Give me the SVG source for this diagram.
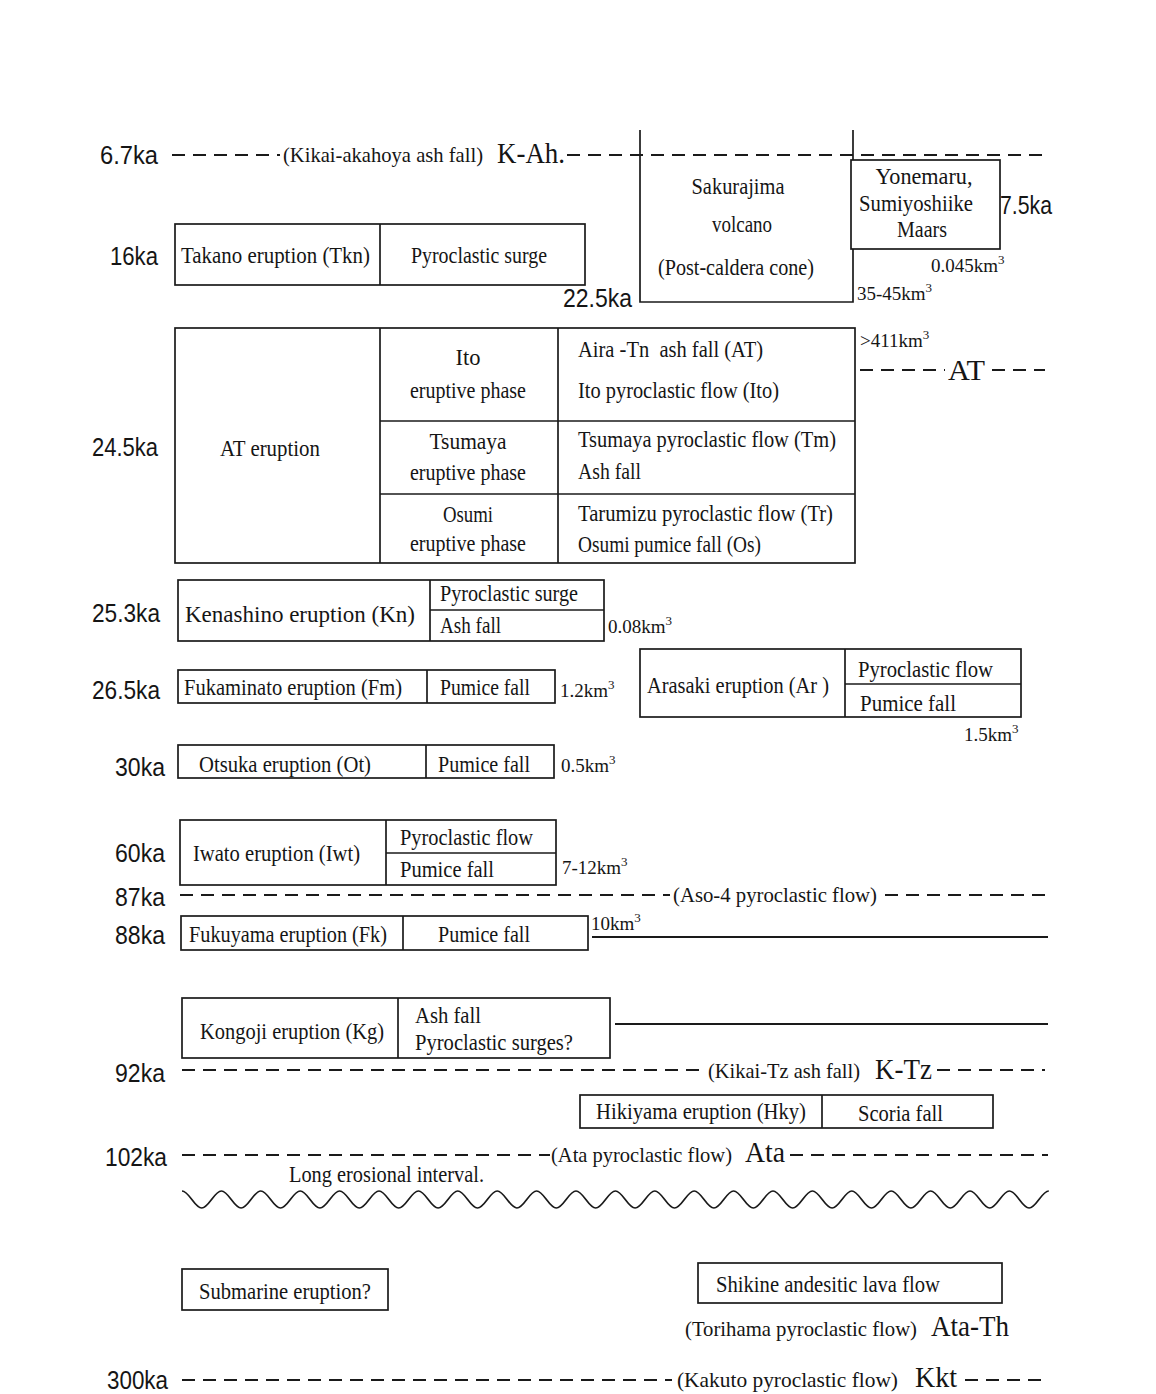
<svg xmlns="http://www.w3.org/2000/svg" width="1156" height="1394" viewBox="0 0 1156 1394">
<style>
.t{font-family:"Liberation Serif","Times New Roman",serif;font-size:24px;fill:#151515}
.p{font-size:21px}
.c{text-anchor:middle}
.big{font-size:29px}
.v{font-size:19px}
.ka{font-family:"Liberation Sans",Arial,sans-serif;font-size:26px;fill:#151515}
.box{fill:#fff;stroke:#1a1a1a;stroke-width:1.7}
.ln{fill:none;stroke:#1a1a1a;stroke-width:1.7}
.dash{fill:none;stroke:#1a1a1a;stroke-width:2;stroke-dasharray:13 8}
.solid{fill:none;stroke:#1a1a1a;stroke-width:2}
</style>
<rect width="1156" height="1394" fill="#fff"/>

<g id="connectors">
  <line class="dash" x1="172" y1="155" x2="280" y2="155"/>
  <line class="dash" x1="567" y1="155" x2="1045" y2="155"/>
  <line class="dash" x1="860" y1="370" x2="945" y2="370"/>
  <line class="dash" x1="992" y1="370" x2="1045" y2="370"/>
  <line class="dash" x1="180" y1="895" x2="670" y2="895"/>
  <line class="dash" x1="885" y1="895" x2="1045" y2="895"/>
  <line class="solid" x1="592" y1="937" x2="1048" y2="937"/>
  <line class="solid" x1="615" y1="1024" x2="1048" y2="1024"/>
  <line class="dash" x1="182" y1="1070" x2="705" y2="1070"/>
  <line class="dash" x1="937" y1="1070" x2="1045" y2="1070"/>
  <line class="dash" x1="182" y1="1155" x2="550" y2="1155"/>
  <line class="dash" x1="790" y1="1155" x2="1048" y2="1155"/>
  <line class="dash" x1="182" y1="1380" x2="672" y2="1380"/>
  <line class="dash" x1="965" y1="1380" x2="1045" y2="1380"/>
  <path class="ln" d="M182,1191 c7.1,0 12.6,17 19.7,17 c7.1,0 12.6,-17 19.7,-17 c7.1,0 12.6,17 19.7,17 c7.1,0 12.6,-17 19.7,-17 c7.1,0 12.6,17 19.7,17 c7.1,0 12.6,-17 19.7,-17 c7.1,0 12.6,17 19.7,17 c7.1,0 12.6,-17 19.7,-17 c7.1,0 12.6,17 19.7,17 c7.1,0 12.6,-17 19.7,-17 c7.1,0 12.6,17 19.7,17 c7.1,0 12.6,-17 19.7,-17 c7.1,0 12.6,17 19.7,17 c7.1,0 12.6,-17 19.7,-17 c7.1,0 12.6,17 19.7,17 c7.1,0 12.6,-17 19.7,-17 c7.1,0 12.6,17 19.7,17 c7.1,0 12.6,-17 19.7,-17 c7.1,0 12.6,17 19.7,17 c7.1,0 12.6,-17 19.7,-17 c7.1,0 12.6,17 19.7,17 c7.1,0 12.6,-17 19.7,-17 c7.1,0 12.6,17 19.7,17 c7.1,0 12.6,-17 19.7,-17 c7.1,0 12.6,17 19.7,17 c7.1,0 12.6,-17 19.7,-17 c7.1,0 12.6,17 19.7,17 c7.1,0 12.6,-17 19.7,-17 c7.1,0 12.6,17 19.7,17 c7.1,0 12.6,-17 19.7,-17 c7.1,0 12.6,17 19.7,17 c7.1,0 12.6,-17 19.7,-17 c7.1,0 12.6,17 19.7,17 c7.1,0 12.6,-17 19.7,-17 c7.1,0 12.6,17 19.7,17 c7.1,0 12.6,-17 19.7,-17 c7.1,0 12.6,17 19.7,17 c7.1,0 12.6,-17 19.7,-17 c7.1,0 12.6,17 19.7,17 c7.1,0 12.6,-17 19.7,-17 c7.1,0 12.6,17 19.7,17 c7.1,0 12.6,-17 19.7,-17 c7.1,0 12.6,17 19.7,17 c7.1,0 12.6,-17 19.7,-17"/>
</g>

<g id="timeline-labels">
  <text class="ka" x="100" y="164" textLength="58" lengthAdjust="spacingAndGlyphs">6.7ka</text>
  <text class="t p" x="283" y="162" textLength="200" lengthAdjust="spacingAndGlyphs">(Kikai-akahoya ash fall)</text>
  <text class="t big" x="497" y="163" textLength="68" lengthAdjust="spacingAndGlyphs">K-Ah.</text>
  <text class="ka" x="110" y="265" textLength="48" lengthAdjust="spacingAndGlyphs">16ka</text>
  <text class="ka" x="563" y="307" textLength="69" lengthAdjust="spacingAndGlyphs">22.5ka</text>
  <text class="ka" x="1000" y="214" textLength="52" lengthAdjust="spacingAndGlyphs">7.5ka</text>
  <text class="t v" x="931" y="272">0.045km<tspan dy="-8" font-size="13">3</tspan></text>
  <text class="t v" x="857" y="300">35-45km<tspan dy="-8" font-size="13">3</tspan></text>
  <text class="ka" x="92" y="456" textLength="66" lengthAdjust="spacingAndGlyphs">24.5ka</text>
  <text class="t v" x="860" y="347">&gt;411km<tspan dy="-8" font-size="13">3</tspan></text>
  <text class="t big" x="948" y="380" textLength="37" lengthAdjust="spacingAndGlyphs">AT</text>
  <text class="ka" x="92" y="622" textLength="68" lengthAdjust="spacingAndGlyphs">25.3ka</text>
  <text class="t v" x="608" y="633">0.08km<tspan dy="-8" font-size="13">3</tspan></text>
  <text class="ka" x="92" y="699" textLength="68" lengthAdjust="spacingAndGlyphs">26.5ka</text>
  <text class="t v" x="560" y="697">1.2km<tspan dy="-8" font-size="13">3</tspan></text>
  <text class="t v" x="964" y="741">1.5km<tspan dy="-8" font-size="13">3</tspan></text>
  <text class="ka" x="115" y="776" textLength="50" lengthAdjust="spacingAndGlyphs">30ka</text>
  <text class="t v" x="561" y="772">0.5km<tspan dy="-8" font-size="13">3</tspan></text>
  <text class="ka" x="115" y="862" textLength="50" lengthAdjust="spacingAndGlyphs">60ka</text>
  <text class="t v" x="562" y="874">7-12km<tspan dy="-8" font-size="13">3</tspan></text>
  <text class="ka" x="115" y="906" textLength="50" lengthAdjust="spacingAndGlyphs">87ka</text>
  <text class="t p" x="673" y="902" textLength="204" lengthAdjust="spacingAndGlyphs">(Aso-4 pyroclastic flow)</text>
  <text class="ka" x="115" y="944" textLength="50" lengthAdjust="spacingAndGlyphs">88ka</text>
  <text class="t v" x="591" y="930">10km<tspan dy="-8" font-size="13">3</tspan></text>
  <text class="ka" x="115" y="1082" textLength="50" lengthAdjust="spacingAndGlyphs">92ka</text>
  <text class="t p" x="708" y="1078" textLength="152" lengthAdjust="spacingAndGlyphs">(Kikai-Tz ash fall)</text>
  <text class="t big" x="875" y="1079" textLength="57" lengthAdjust="spacingAndGlyphs">K-Tz</text>
  <text class="ka" x="105" y="1166" textLength="62" lengthAdjust="spacingAndGlyphs">102ka</text>
  <text class="t p" x="551" y="1162" textLength="181" lengthAdjust="spacingAndGlyphs">(Ata pyroclastic flow)</text>
  <text class="t big" x="745" y="1162" textLength="40" lengthAdjust="spacingAndGlyphs">Ata</text>
  <text class="t" x="289" y="1182" textLength="195" lengthAdjust="spacingAndGlyphs">Long erosional interval.</text>
  <text class="t p" x="685" y="1336" textLength="232" lengthAdjust="spacingAndGlyphs">(Torihama pyroclastic flow)</text>
  <text class="t big" x="931" y="1336" textLength="78" lengthAdjust="spacingAndGlyphs">Ata-Th</text>
  <text class="ka" x="107" y="1389" textLength="61" lengthAdjust="spacingAndGlyphs">300ka</text>
  <text class="t p" x="677" y="1387" textLength="221" lengthAdjust="spacingAndGlyphs">(Kakuto pyroclastic flow)</text>
  <text class="t big" x="915" y="1387" textLength="42" lengthAdjust="spacingAndGlyphs">Kkt</text>
</g>

<g id="sakurajima">
  <path class="ln" d="M640,130 V302 H853 V130"/>
  <text class="t c" x="738" y="194" textLength="93" lengthAdjust="spacingAndGlyphs">Sakurajima</text>
  <text class="t c" x="742" y="232" textLength="60" lengthAdjust="spacingAndGlyphs">volcano</text>
  <text class="t c" x="736" y="275" textLength="156" lengthAdjust="spacingAndGlyphs">(Post-caldera cone)</text>
</g>

<g id="yonemaru">
  <rect class="box" x="851" y="160" width="149" height="89"/>
  <text class="t c" x="924" y="184" textLength="97" lengthAdjust="spacingAndGlyphs">Yonemaru,</text>
  <text class="t c" x="916" y="211" textLength="114" lengthAdjust="spacingAndGlyphs">Sumiyoshiike</text>
  <text class="t c" x="922" y="237" textLength="50" lengthAdjust="spacingAndGlyphs">Maars</text>
</g>

<g id="takano">
  <rect class="box" x="175" y="224" width="410" height="61"/>
  <line class="ln" x1="380" y1="224" x2="380" y2="285"/>
  <text class="t" x="181" y="263" textLength="189" lengthAdjust="spacingAndGlyphs">Takano eruption (Tkn)</text>
  <text class="t" x="411" y="263" textLength="136" lengthAdjust="spacingAndGlyphs">Pyroclastic surge</text>
</g>

<g id="at-eruption">
  <rect class="box" x="175" y="328" width="680" height="235"/>
  <line class="ln" x1="380" y1="328" x2="380" y2="563"/>
  <line class="ln" x1="558" y1="328" x2="558" y2="563"/>
  <line class="ln" x1="380" y1="421" x2="855" y2="421"/>
  <line class="ln" x1="380" y1="494" x2="855" y2="494"/>
  <text class="t" x="220" y="456" textLength="100" lengthAdjust="spacingAndGlyphs">AT eruption</text>
  <text class="t c" x="468" y="365" textLength="25" lengthAdjust="spacingAndGlyphs">Ito</text>
  <text class="t c" x="468" y="398" textLength="116" lengthAdjust="spacingAndGlyphs">eruptive phase</text>
  <text class="t c" x="468" y="449" textLength="77" lengthAdjust="spacingAndGlyphs">Tsumaya</text>
  <text class="t c" x="468" y="480" textLength="116" lengthAdjust="spacingAndGlyphs">eruptive phase</text>
  <text class="t c" x="468" y="522" textLength="50" lengthAdjust="spacingAndGlyphs">Osumi</text>
  <text class="t c" x="468" y="551" textLength="116" lengthAdjust="spacingAndGlyphs">eruptive phase</text>
  <text class="t" x="578" y="357" textLength="185" lengthAdjust="spacingAndGlyphs" xml:space="preserve">Aira -Tn  ash fall (AT)</text>
  <text class="t" x="578" y="398" textLength="201" lengthAdjust="spacingAndGlyphs">Ito pyroclastic flow (Ito)</text>
  <text class="t" x="578" y="447" textLength="258" lengthAdjust="spacingAndGlyphs">Tsumaya pyroclastic flow (Tm)</text>
  <text class="t" x="578" y="479" textLength="63" lengthAdjust="spacingAndGlyphs">Ash fall</text>
  <text class="t" x="578" y="521" textLength="255" lengthAdjust="spacingAndGlyphs">Tarumizu pyroclastic flow (Tr)</text>
  <text class="t" x="578" y="552" textLength="183" lengthAdjust="spacingAndGlyphs">Osumi pumice fall (Os)</text>
</g>

<g id="kenashino">
  <rect class="box" x="178" y="580" width="426" height="61"/>
  <line class="ln" x1="430" y1="580" x2="430" y2="641"/>
  <line class="ln" x1="430" y1="610" x2="604" y2="610"/>
  <text class="t" x="185" y="622" textLength="230" lengthAdjust="spacingAndGlyphs">Kenashino eruption (Kn)</text>
  <text class="t" x="440" y="601" textLength="138" lengthAdjust="spacingAndGlyphs">Pyroclastic surge</text>
  <text class="t" x="440" y="633" textLength="61" lengthAdjust="spacingAndGlyphs">Ash fall</text>
</g>

<g id="fukaminato">
  <rect class="box" x="178" y="670" width="377" height="33"/>
  <line class="ln" x1="427" y1="670" x2="427" y2="703"/>
  <text class="t" x="184" y="695" textLength="218" lengthAdjust="spacingAndGlyphs">Fukaminato eruption (Fm)</text>
  <text class="t" x="440" y="695" textLength="90" lengthAdjust="spacingAndGlyphs">Pumice fall</text>
</g>

<g id="arasaki">
  <rect class="box" x="640" y="649" width="381" height="68"/>
  <line class="ln" x1="845" y1="649" x2="845" y2="717"/>
  <line class="ln" x1="845" y1="684" x2="1021" y2="684"/>
  <text class="t" x="647" y="693" textLength="182" lengthAdjust="spacingAndGlyphs">Arasaki eruption (Ar )</text>
  <text class="t" x="858" y="677" textLength="135" lengthAdjust="spacingAndGlyphs">Pyroclastic flow</text>
  <text class="t" x="860" y="711" textLength="96" lengthAdjust="spacingAndGlyphs">Pumice fall</text>
</g>

<g id="otsuka">
  <rect class="box" x="178" y="745" width="376" height="33"/>
  <line class="ln" x1="426" y1="745" x2="426" y2="778"/>
  <text class="t" x="199" y="772" textLength="172" lengthAdjust="spacingAndGlyphs">Otsuka eruption (Ot)</text>
  <text class="t" x="438" y="772" textLength="92" lengthAdjust="spacingAndGlyphs">Pumice fall</text>
</g>

<g id="iwato">
  <rect class="box" x="180" y="820" width="376" height="65"/>
  <line class="ln" x1="386" y1="820" x2="386" y2="885"/>
  <line class="ln" x1="386" y1="853" x2="556" y2="853"/>
  <text class="t" x="193" y="861" textLength="167" lengthAdjust="spacingAndGlyphs">Iwato eruption (Iwt)</text>
  <text class="t" x="400" y="845" textLength="133" lengthAdjust="spacingAndGlyphs">Pyroclastic flow</text>
  <text class="t" x="400" y="877" textLength="94" lengthAdjust="spacingAndGlyphs">Pumice fall</text>
</g>

<g id="fukuyama">
  <rect class="box" x="181" y="916" width="407" height="34"/>
  <line class="ln" x1="403" y1="916" x2="403" y2="950"/>
  <text class="t" x="189" y="942" textLength="198" lengthAdjust="spacingAndGlyphs">Fukuyama eruption (Fk)</text>
  <text class="t" x="438" y="942" textLength="92" lengthAdjust="spacingAndGlyphs">Pumice fall</text>
</g>

<g id="kongoji">
  <rect class="box" x="182" y="998" width="428" height="60"/>
  <line class="ln" x1="398" y1="998" x2="398" y2="1058"/>
  <text class="t" x="200" y="1039" textLength="184" lengthAdjust="spacingAndGlyphs">Kongoji eruption (Kg)</text>
  <text class="t" x="415" y="1023" textLength="66" lengthAdjust="spacingAndGlyphs">Ash fall</text>
  <text class="t" x="415" y="1050" textLength="158" lengthAdjust="spacingAndGlyphs">Pyroclastic surges?</text>
</g>

<g id="hikiyama">
  <rect class="box" x="580" y="1095" width="413" height="33"/>
  <line class="ln" x1="822" y1="1095" x2="822" y2="1128"/>
  <text class="t" x="596" y="1119" textLength="210" lengthAdjust="spacingAndGlyphs">Hikiyama eruption (Hky)</text>
  <text class="t" x="858" y="1121" textLength="85" lengthAdjust="spacingAndGlyphs">Scoria fall</text>
</g>

<g id="submarine">
  <rect class="box" x="182" y="1269" width="206" height="41"/>
  <text class="t" x="199" y="1299" textLength="172" lengthAdjust="spacingAndGlyphs">Submarine eruption?</text>
</g>

<g id="shikine">
  <rect class="box" x="698" y="1263" width="304" height="40"/>
  <text class="t" x="716" y="1292" textLength="224" lengthAdjust="spacingAndGlyphs">Shikine andesitic lava flow</text>
</g>
</svg>
